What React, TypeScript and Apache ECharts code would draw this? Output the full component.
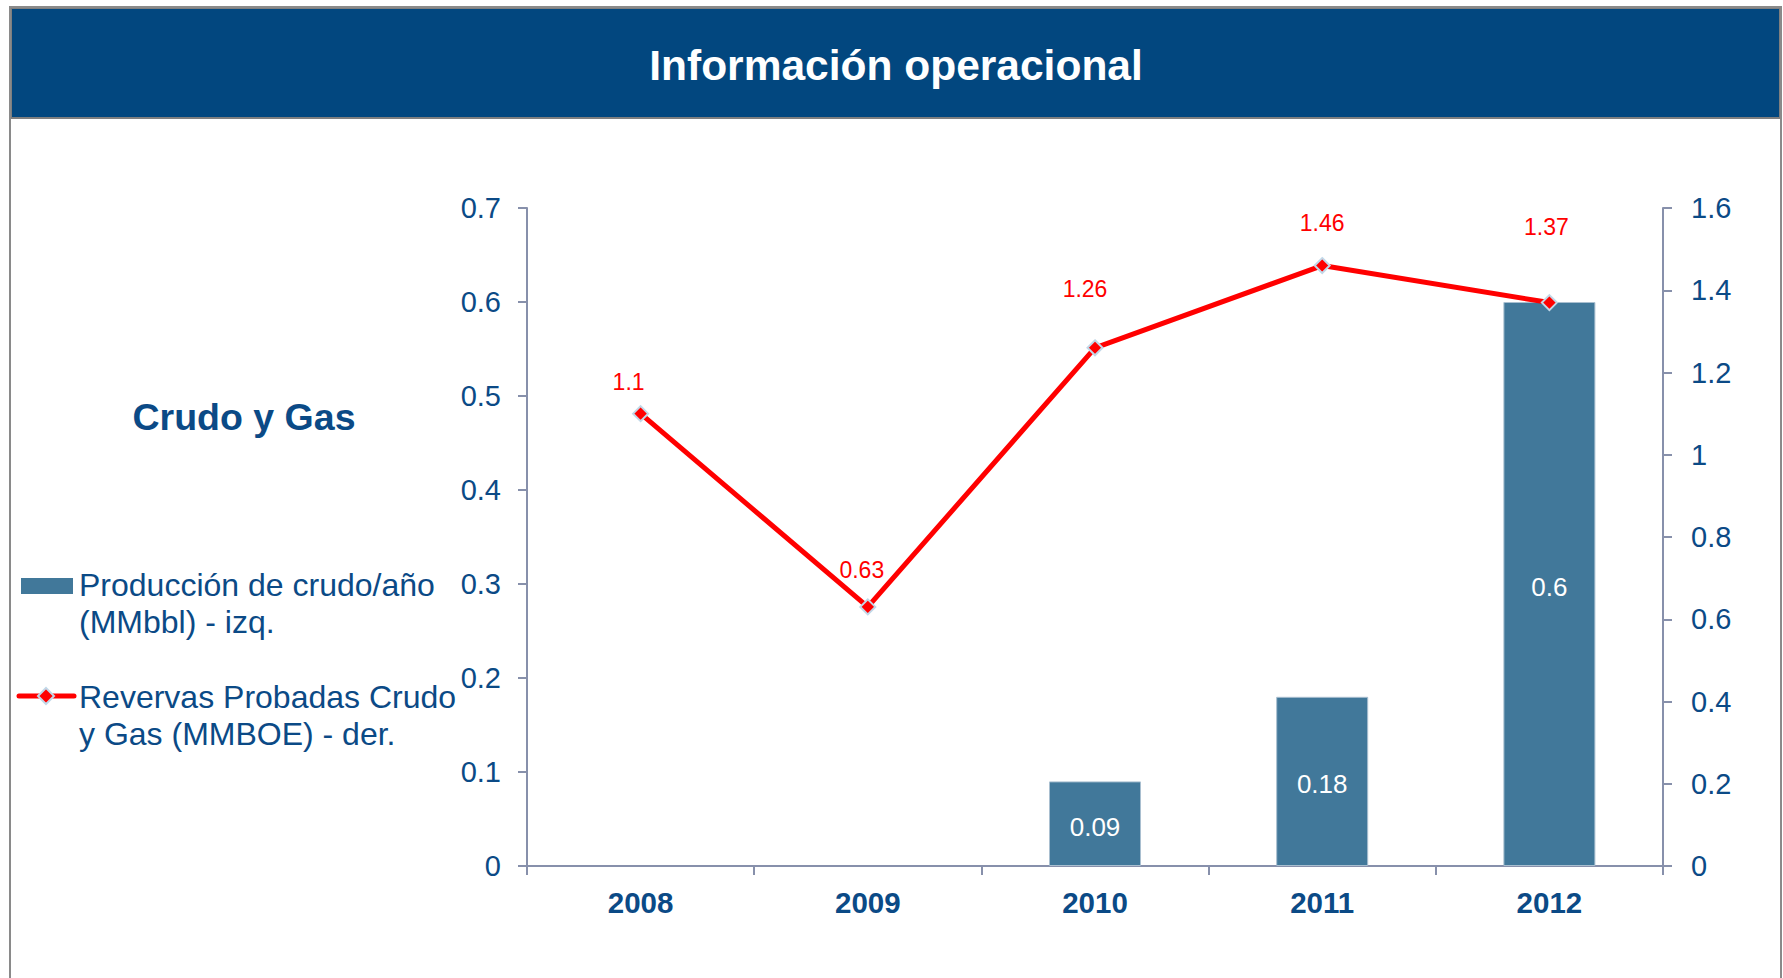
import React, { useEffect, useRef } from "react";
import * as echarts from "echarts";

const years = ["2008", "2009", "2010", "2011", "2012"];
const produccion = [null, null, 0.09, 0.18, 0.6];
const reservas = [1.1, 0.63, 1.26, 1.46, 1.37];
const leftTicks = { min: 0, max: 0.7, interval: 0.1 };
const rightTicks = { min: 0, max: 1.6, interval: 0.2 };
const titleText = "Información operacional";
const sideTitle = "Crudo y Gas";
const legendBar = "Producción de crudo/año\n(MMbbl) - izq.";
const legendLine = "Revervas Probadas Crudo\ny Gas (MMBOE) - der.";

// layout-only label nudges for the red labels (as placed in the original)
const lineLabelNudge = [[-12, -7], [-6, -12], [-10, -34], [0, -18], [-3, -51]];

const NAVY = "#0B4A86";
const FONT = "Liberation Sans, Arial, sans-serif";
const AXIS = "#8790AB";

export default function App() {
  const ref = useRef<HTMLDivElement>(null);
  useEffect(() => {
    document.body.style.margin = "0";
    const chart = echarts.init(ref.current!, null, { renderer: "svg" });
    chart.setOption({
      animation: false,
      textStyle: { fontFamily: FONT },
      grid: { left: 527, right: 120, top: 208, bottom: 112 },
      xAxis: {
        type: "category",
        data: years,
        boundaryGap: true,
        axisLine: { lineStyle: { color: AXIS, width: 2 } },
        axisTick: { show: true, length: 9, lineStyle: { color: AXIS, width: 2 } },
        axisLabel: { color: NAVY, fontSize: 29.5, fontWeight: "bold", margin: 21, fontFamily: FONT },
      },
      yAxis: [
        {
          type: "value",
          ...leftTicks,
          position: "left",
          splitLine: { show: false },
          axisLine: { show: true, lineStyle: { color: AXIS, width: 2 } },
          axisTick: { show: true, length: 9, lineStyle: { color: AXIS, width: 2 } },
          axisLabel: { color: NAVY, fontSize: 29, margin: 26, fontFamily: FONT },
        },
        {
          type: "value",
          ...rightTicks,
          position: "right",
          splitLine: { show: false },
          axisLine: { show: true, lineStyle: { color: AXIS, width: 2 } },
          axisTick: { show: true, length: 9, lineStyle: { color: AXIS, width: 2 } },
          axisLabel: { color: NAVY, fontSize: 29, margin: 28, fontFamily: FONT },
        },
      ],
      series: [
        {
          name: "Producción",
          type: "bar",
          yAxisIndex: 0,
          data: produccion,
          barWidth: 92,
          itemStyle: { color: "#41789A", borderColor: "#A9BFD0", borderWidth: 1 },
          label: {
            show: true,
            position: "inside",
            color: "#ffffff",
            fontSize: 26,
            offset: [0, 3],
            fontFamily: FONT,
          },
        },
        {
          name: "Reservas",
          type: "line",
          yAxisIndex: 1,
          data: reservas.map((v, i) => ({
            value: v,
            label: { offset: lineLabelNudge[i] },
          })),
          lineStyle: { color: "#FF0000", width: 5 },
          symbol: "diamond",
          symbolSize: 15,
          itemStyle: { color: "#FF0000", borderColor: "#C2D8E8", borderWidth: 2 },
          label: {
            show: true,
            position: "top",
            color: "#FF0000",
            fontSize: 23,
            fontFamily: FONT,
          },
          z: 5,
        },
      ],
      graphic: [
        {
          type: "rect",
          shape: { x: 10, y: 7, width: 1771, height: 980 },
          style: { fill: "none", stroke: "#8A8A8A", lineWidth: 2 },
          z: 10,
        },
        {
          type: "rect",
          shape: { x: 11, y: 8, width: 1769, height: 110 },
          style: { fill: "#02477F", stroke: "#7F7F7F", lineWidth: 2 },
          z: 9,
        },
        {
          type: "text",
          x: 896,
          y: 65,
          style: {
            text: titleText,
            fill: "#ffffff",
            font: `bold 42.5px ${FONT}`,
            align: "center",
            verticalAlign: "middle",
          },
          z: 11,
        },
        {
          type: "text",
          x: 244,
          y: 417,
          style: {
            text: sideTitle,
            fill: NAVY,
            font: `bold 37.5px ${FONT}`,
            align: "center",
            verticalAlign: "middle",
          },
        },
        {
          type: "rect",
          shape: { x: 21, y: 578, width: 52, height: 16 },
          style: { fill: "#41789A" },
        },
        {
          type: "text",
          x: 79,
          y: 566,
          style: {
            text: legendBar,
            fill: NAVY,
            font: `32px ${FONT}`,
            lineHeight: 37,
            align: "left",
            verticalAlign: "top",
          },
        },
        {
          type: "line",
          shape: { x1: 19, y1: 696, x2: 74, y2: 696 },
          style: { stroke: "#FF0000", lineWidth: 5, lineCap: "round" },
        },
        {
          type: "polygon",
          shape: { points: [[46, 688], [54, 696], [46, 704], [38, 696]] },
          style: { fill: "#FF0000", stroke: "#C2D8E8", lineWidth: 2 },
        },
        {
          type: "text",
          x: 79,
          y: 678,
          style: {
            text: legendLine,
            fill: NAVY,
            font: `32px ${FONT}`,
            lineHeight: 37,
            align: "left",
            verticalAlign: "top",
          },
        },
      ],
    });
    return () => chart.dispose();
  }, []);
  return <div ref={ref} style={{ width: 1783, height: 978 }} />;
}
